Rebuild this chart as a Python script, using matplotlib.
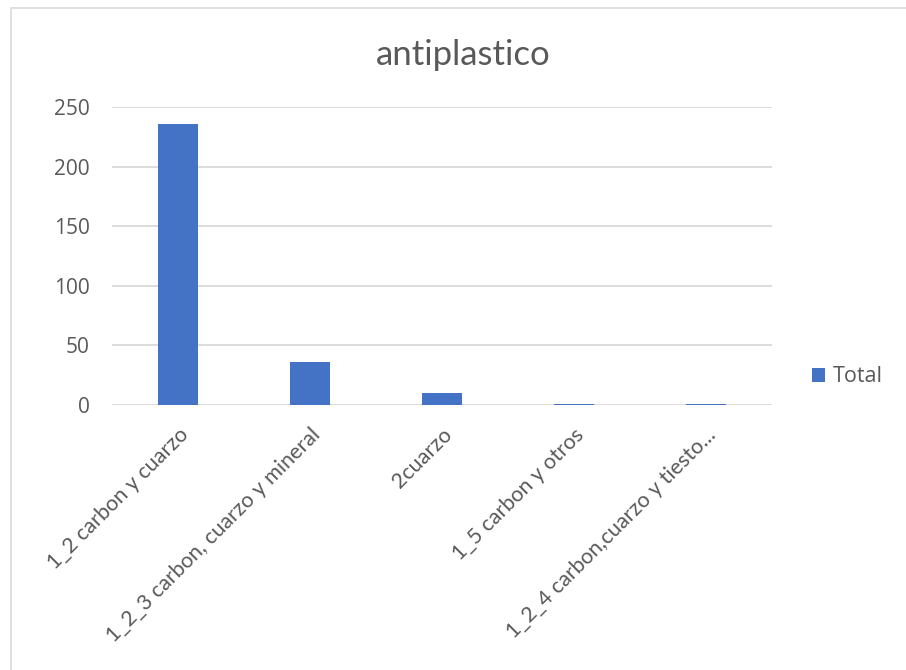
import matplotlib
matplotlib.use("Agg")
import matplotlib.pyplot as plt
from matplotlib.patches import Rectangle

categories = [
    "1_2 carbon y cuarzo",
    "1_2_3 carbon, cuarzo y mineral",
    "2cuarzo",
    "1_5 carbon y otros",
    "1_2_4 carbon,cuarzo y tiesto...",
]
totals = [236, 36, 10, 1, 1]
y_ticks = [0, 50, 100, 150, 200, 250]
series_name = "Total"
title = "antiplastico"

W, H = 906, 670
fig = plt.figure(figsize=(W / 100, H / 100), dpi=100)
fig.patch.set_facecolor("white")

# chart frame
fig.add_artist(Rectangle((11 / W, -0.1), 1.2, 1 - 8 / H + 0.1,
                         transform=fig.transFigure, fill=False,
                         edgecolor="#d9d9d9", linewidth=1.2))

ax = fig.add_axes([112 / W, 1 - 405 / H, (772 - 112) / W, (405 - 107) / H])
x = list(range(len(categories)))
ax.bar(x, totals, width=0.31, color="#4472C4", label=series_name, zorder=3)

ax.set_xlim(-0.5, len(categories) - 0.5)
ax.set_ylim(0, 250)
ax.set_yticks(y_ticks)
ax.set_yticklabels([str(v) for v in y_ticks], fontsize=15, color="#595959",
                   family=["Open Sans", "DejaVu Sans"])
ax.set_xticks(x)
ax.set_xticklabels(categories, rotation=45, ha="right", rotation_mode="anchor",
                   fontsize=15.5, color="#595959", family=["Lato", "DejaVu Sans"])
ax.tick_params(axis="both", length=0)
ax.tick_params(axis="y", pad=16)
ax.tick_params(axis="x", pad=14)
ax.grid(axis="y", color="#d9d9d9", linewidth=1.3, zorder=0)
for s in ax.spines.values():
    s.set_visible(False)

fig.text(463 / W, 1 - 55 / H, title, ha="center", va="center", fontsize=25,
         color="#595959", family=["Lato", "DejaVu Sans"])

leg = fig.legend(loc="center left", bbox_to_anchor=(812 / W, 1 - 377 / H),
                 frameon=False, handlelength=0.6, handleheight=0.6,
                 handletextpad=0.35, borderaxespad=0, borderpad=0,
                 prop={"family": ["Open Sans", "DejaVu Sans"], "size": 15.5})
for t in leg.get_texts():
    t.set_color("#595959")

fig.savefig("out.png", dpi=100, facecolor="white")
